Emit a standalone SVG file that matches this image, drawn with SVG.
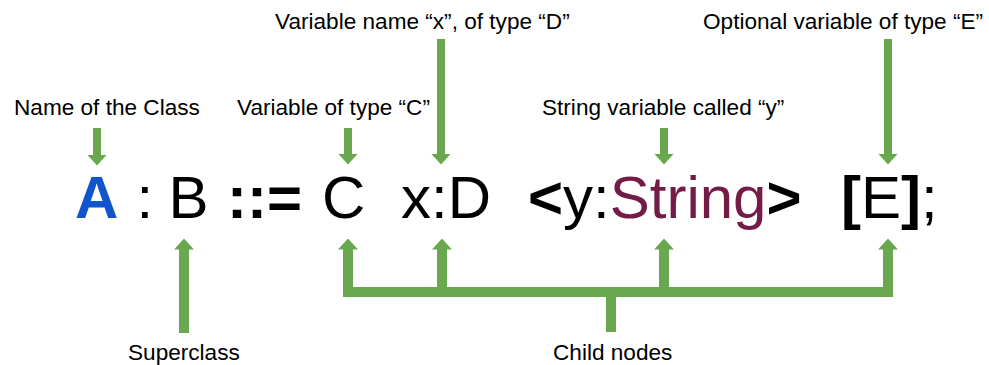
<svg xmlns="http://www.w3.org/2000/svg" width="989" height="365" viewBox="0 0 989 365">
  <style>
    text { font-family: "Liberation Sans", Arial, sans-serif; fill: #000; }
    .label { font-size: 22.6px; }
    .expr { font-size: 60px; }
    .b { font-weight: bold; }
    .blue { fill: #1155cc; }
    .plum { fill: #741b47; }
    .wire { stroke: #6aa84f; fill: none; stroke-linecap: butt; }
    .thin { stroke-width: 8; }
    .thick { stroke-width: 10; }
  </style>
  <defs>
    <marker id="head" viewBox="0 0 11 20" refX="0.5" refY="10" markerWidth="11" markerHeight="20" markerUnits="userSpaceOnUse" orient="auto">
      <path d="M0,0 L11,10 L0,20 Z" fill="#6aa84f"/>
    </marker>
  </defs>

  <rect width="989" height="365" fill="#ffffff"/>

  <!-- annotation labels -->
  <g id="label-class-name"><text class="label" x="14" y="115">Name of the Class</text></g>
  <g id="label-type-c"><text class="label" x="237" y="115">Variable of type “C”</text></g>
  <g id="label-var-x"><text class="label" x="275" y="28.5">Variable name “x”, of type “D”</text></g>
  <g id="label-string-y"><text class="label" x="542" y="115">String variable called “y”</text></g>
  <g id="label-optional-e"><text class="label" x="703" y="28.5">Optional variable of type “E”</text></g>
  <g id="label-superclass"><text class="label" x="128" y="360">Superclass</text></g>
  <g id="label-children"><text class="label" x="553" y="360">Child nodes</text></g>

  <!-- grammar rule tokens -->
  <g id="tok-a"><text class="expr b blue" x="75" y="218">A</text></g>
  <g id="tok-colon"><text class="expr" x="136.5" y="218">:</text></g>
  <g id="tok-b"><text class="expr" x="168.5" y="218">B</text></g>
  <g id="tok-def"><text class="expr b" x="227" y="218">::=</text></g>
  <g id="tok-c"><text class="expr" x="322" y="218">C</text></g>
  <g id="tok-xd"><text class="expr" x="401" y="218">x:D</text></g>
  <g id="tok-string"><text class="expr" x="528" y="218"><tspan class="b">&lt;</tspan>y:<tspan class="plum">String</tspan><tspan class="b">&gt;</tspan></text></g>
  <g id="tok-e"><text class="expr" x="841" y="218"><tspan class="b">[</tspan>E<tspan class="b">]</tspan>;</text></g>

  <!-- connectors -->
  <g id="connectors">
    <line class="wire thin" x1="97" y1="128" x2="97" y2="155" marker-end="url(#head)"/>
    <line class="wire thin" x1="348" y1="128" x2="348" y2="154" marker-end="url(#head)"/>
    <line class="wire thin" x1="441" y1="39" x2="441" y2="154" marker-end="url(#head)"/>
    <line class="wire thin" x1="664" y1="128" x2="664" y2="154" marker-end="url(#head)"/>
    <line class="wire thin" x1="888" y1="39" x2="888" y2="154" marker-end="url(#head)"/>

    <line class="wire thick" x1="184" y1="333" x2="184" y2="249" marker-end="url(#head)"/>

    <path class="wire thick" d="M348,249 V292 H888 V249 M442,292 V249 M664,292 V249 M611,292 V332"/>
    <line class="wire thick" x1="348" y1="260" x2="348" y2="249" marker-end="url(#head)"/>
    <line class="wire thick" x1="442" y1="260" x2="442" y2="249" marker-end="url(#head)"/>
    <line class="wire thick" x1="664" y1="260" x2="664" y2="249" marker-end="url(#head)"/>
    <line class="wire thick" x1="888" y1="260" x2="888" y2="249" marker-end="url(#head)"/>
  </g>
</svg>
